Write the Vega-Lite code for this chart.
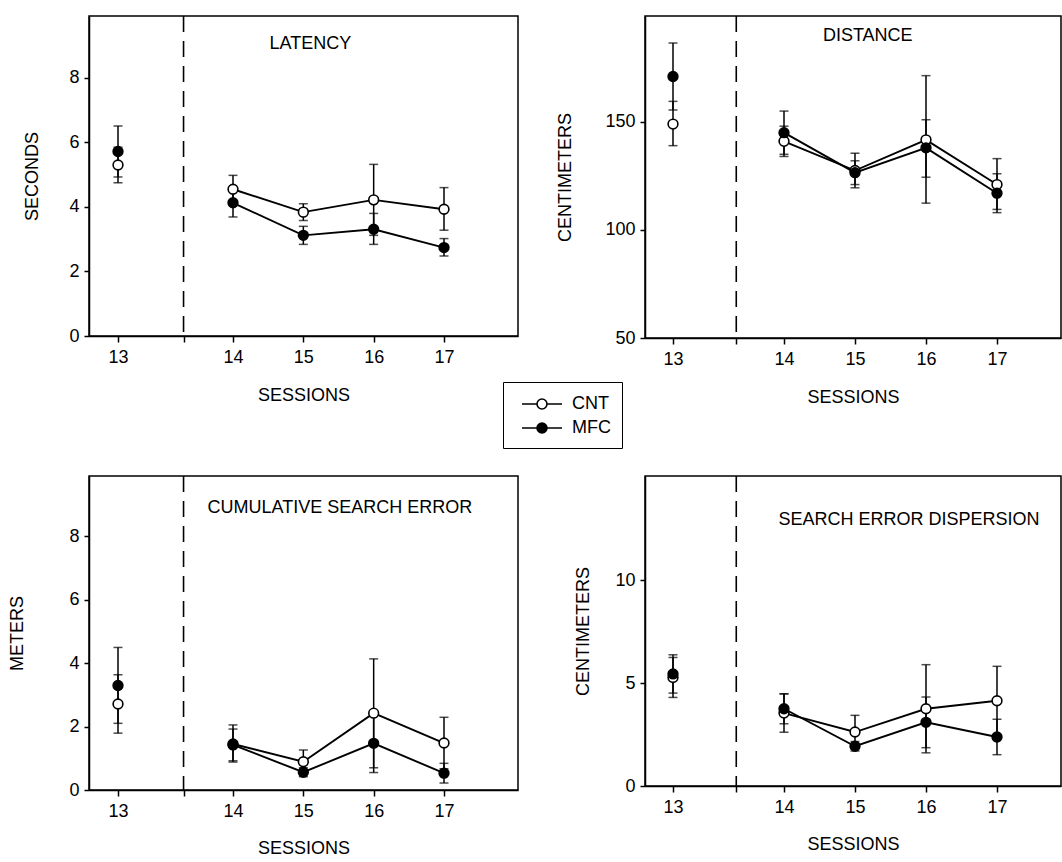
{
  "$schema": "https://vega.github.io/schema/vega-lite/v6.json",
  "background": "white",
  "padding": {"left": 8, "top": 14, "right": 0, "bottom": 0},
  "bounds": "flush",
  "columns": 2,
  "spacing": {"row": 138, "column": 127},
  "data": {"values": [
    {"measure": "LATENCY", "session": 13, "group": "CNT", "mean": 5.30, "lo": 4.75, "hi": 5.85},
    {"measure": "LATENCY", "session": 13, "group": "MFC", "mean": 5.72, "lo": 4.93, "hi": 6.51},
    {"measure": "LATENCY", "session": 14, "group": "CNT", "mean": 4.55, "lo": 4.12, "hi": 4.98},
    {"measure": "LATENCY", "session": 14, "group": "MFC", "mean": 4.13, "lo": 3.69, "hi": 4.57},
    {"measure": "LATENCY", "session": 15, "group": "CNT", "mean": 3.84, "lo": 3.58, "hi": 4.10},
    {"measure": "LATENCY", "session": 15, "group": "MFC", "mean": 3.12, "lo": 2.84, "hi": 3.40},
    {"measure": "LATENCY", "session": 16, "group": "CNT", "mean": 4.22, "lo": 3.12, "hi": 5.32},
    {"measure": "LATENCY", "session": 16, "group": "MFC", "mean": 3.31, "lo": 2.84, "hi": 3.80},
    {"measure": "LATENCY", "session": 17, "group": "CNT", "mean": 3.93, "lo": 3.28, "hi": 4.60},
    {"measure": "LATENCY", "session": 17, "group": "MFC", "mean": 2.74, "lo": 2.48, "hi": 3.02},
    {"measure": "DISTANCE", "session": 13, "group": "CNT", "mean": 149, "lo": 139, "hi": 159.5},
    {"measure": "DISTANCE", "session": 13, "group": "MFC", "mean": 171, "lo": 155.5, "hi": 186.5},
    {"measure": "DISTANCE", "session": 14, "group": "CNT", "mean": 141, "lo": 134, "hi": 148},
    {"measure": "DISTANCE", "session": 14, "group": "MFC", "mean": 145, "lo": 135, "hi": 155},
    {"measure": "DISTANCE", "session": 15, "group": "CNT", "mean": 127.5, "lo": 119.5, "hi": 135.5},
    {"measure": "DISTANCE", "session": 15, "group": "MFC", "mean": 126.5, "lo": 121, "hi": 132},
    {"measure": "DISTANCE", "session": 16, "group": "CNT", "mean": 141.7, "lo": 112.4, "hi": 171.4},
    {"measure": "DISTANCE", "session": 16, "group": "MFC", "mean": 138, "lo": 124.4, "hi": 151},
    {"measure": "DISTANCE", "session": 17, "group": "CNT", "mean": 121, "lo": 109.5, "hi": 133},
    {"measure": "DISTANCE", "session": 17, "group": "MFC", "mean": 117, "lo": 108, "hi": 126},
    {"measure": "CSE", "session": 13, "group": "CNT", "mean": 2.71, "lo": 1.79, "hi": 3.63},
    {"measure": "CSE", "session": 13, "group": "MFC", "mean": 3.29, "lo": 2.10, "hi": 4.49},
    {"measure": "CSE", "session": 14, "group": "CNT", "mean": 1.45, "lo": 0.88, "hi": 2.05},
    {"measure": "CSE", "session": 14, "group": "MFC", "mean": 1.42, "lo": 0.92, "hi": 1.92},
    {"measure": "CSE", "session": 15, "group": "CNT", "mean": 0.89, "lo": 0.52, "hi": 1.26},
    {"measure": "CSE", "session": 15, "group": "MFC", "mean": 0.56, "lo": 0.42, "hi": 0.70},
    {"measure": "CSE", "session": 16, "group": "CNT", "mean": 2.42, "lo": 0.70, "hi": 4.13},
    {"measure": "CSE", "session": 16, "group": "MFC", "mean": 1.47, "lo": 0.55, "hi": 2.39},
    {"measure": "CSE", "session": 17, "group": "CNT", "mean": 1.48, "lo": 0.67, "hi": 2.29},
    {"measure": "CSE", "session": 17, "group": "MFC", "mean": 0.53, "lo": 0.22, "hi": 0.84},
    {"measure": "SED", "session": 13, "group": "CNT", "mean": 5.27, "lo": 4.30, "hi": 6.24},
    {"measure": "SED", "session": 13, "group": "MFC", "mean": 5.44, "lo": 4.51, "hi": 6.37},
    {"measure": "SED", "session": 14, "group": "CNT", "mean": 3.54, "lo": 2.61, "hi": 4.47},
    {"measure": "SED", "session": 14, "group": "MFC", "mean": 3.75, "lo": 3.02, "hi": 4.48},
    {"measure": "SED", "session": 15, "group": "CNT", "mean": 2.62, "lo": 1.81, "hi": 3.43},
    {"measure": "SED", "session": 15, "group": "MFC", "mean": 1.93, "lo": 1.70, "hi": 2.16},
    {"measure": "SED", "session": 16, "group": "CNT", "mean": 3.75, "lo": 1.61, "hi": 5.89},
    {"measure": "SED", "session": 16, "group": "MFC", "mean": 3.09, "lo": 1.86, "hi": 4.32},
    {"measure": "SED", "session": 17, "group": "CNT", "mean": 4.14, "lo": 2.47, "hi": 5.81},
    {"measure": "SED", "session": 17, "group": "MFC", "mean": 2.38, "lo": 1.52, "hi": 3.24}
  ]},
  "concat": [
    {
      "width": 429, "height": 320,
      "transform": [{"filter": "datum.measure == 'LATENCY'"}],
      "layer": [
        {"data": {"values": [{"t": "LATENCY"}]}, "mark": {"type": "rule", "strokeDash": [16, 9], "strokeWidth": 1.6, "color": "black"},
         "encoding": {"x": {"datum": 13.57, "type": "quantitative", "title": "SESSIONS",
           "scale": {"domain": [12, 13, 14, 17, 18], "range": [0, 29, 144, 355, 429]},
           "axis": {"values": [13, 13.57, 14, 15, 16, 17], "labelExpr": "datum.value % 1 == 0 ? format(datum.value, 'd') : ''", "tickSize": 6, "labelPadding": 6, "titlePadding": 20}}}},
        {"mark": {"type": "errorbar", "ticks": {"size": 9}, "thickness": 1.5, "color": "black"},
         "encoding": {"x": {"field": "session", "type": "quantitative", "title": "SESSIONS"},
           "y": {"field": "lo", "type": "quantitative", "title": "SECONDS", "scale": {"domain": [0, 9.92], "nice": false},
             "axis": {"values": [0, 2, 4, 6, 8], "tickSize": 5, "labelPadding": 5, "titlePadding": 27}},
           "y2": {"field": "hi"}}},
        {"transform": [{"filter": "datum.session >= 14"}], "mark": {"type": "line", "color": "black", "strokeWidth": 1.9},
         "encoding": {"x": {"field": "session", "type": "quantitative", "title": "SESSIONS"}, "y": {"field": "mean", "type": "quantitative", "title": "SECONDS"}, "detail": {"field": "group"}}},
        {"mark": {"type": "point", "filled": true, "stroke": "black", "strokeWidth": 1.6, "size": 95, "opacity": 1},
         "encoding": {"x": {"field": "session", "type": "quantitative", "title": "SESSIONS"}, "y": {"field": "mean", "type": "quantitative", "title": "SECONDS"},
           "fill": {"field": "group", "type": "nominal", "scale": {"domain": ["CNT", "MFC"], "range": ["white", "black"]},
             "legend": {"orient": "none", "legendX": 414, "legendY": 366, "title": null, "strokeColor": "black", "fillColor": "white", "padding": 11,
               "symbolType": "M-2,0L-0.5,0M0.5,0L2,0M0.5,0A0.5,0.5,0,1,1,-0.5,0A0.5,0.5,0,1,1,0.5,0Z",
               "symbolSize": 400, "symbolOffset": 17, "symbolStrokeColor": "black", "symbolStrokeWidth": 1.6, "labelFontSize": 18, "labelColor": "black", "rowPadding": 4, "labelOffset": 19}}}},
        {"data": {"values": [{"t": "LATENCY"}]}, "mark": {"type": "text", "fontSize": 18, "color": "black"},
         "encoding": {"x": {"datum": 15.1, "type": "quantitative", "title": "SESSIONS"}, "y": {"datum": 9.05, "type": "quantitative", "title": "SECONDS"}, "text": {"field": "t"}}}
      ]
    },
    {
      "width": 416, "height": 322,
      "transform": [{"filter": "datum.measure == 'DISTANCE'"}],
      "layer": [
        {"data": {"values": [{"t": "DISTANCE"}]}, "mark": {"type": "rule", "strokeDash": [16, 9], "strokeWidth": 1.6, "color": "black"},
         "encoding": {"x": {"datum": 13.57, "type": "quantitative", "title": "SESSIONS",
           "scale": {"domain": [12, 13, 14, 17, 18], "range": [0, 28, 139, 352, 416]},
           "axis": {"values": [13, 13.57, 14, 15, 16, 17], "labelExpr": "datum.value % 1 == 0 ? format(datum.value, 'd') : ''", "tickSize": 6, "labelPadding": 6, "titlePadding": 20}}}},
        {"mark": {"type": "errorbar", "ticks": {"size": 9}, "thickness": 1.5, "color": "black"},
         "encoding": {"x": {"field": "session", "type": "quantitative", "title": "SESSIONS"},
           "y": {"field": "lo", "type": "quantitative", "title": "CENTIMETERS", "scale": {"domain": [50, 199], "nice": false, "zero": false},
             "axis": {"values": [50, 100, 150], "tickSize": 5, "labelPadding": 5, "titlePadding": 30}},
           "y2": {"field": "hi"}}},
        {"transform": [{"filter": "datum.session >= 14"}], "mark": {"type": "line", "color": "black", "strokeWidth": 1.9},
         "encoding": {"x": {"field": "session", "type": "quantitative", "title": "SESSIONS"}, "y": {"field": "mean", "type": "quantitative", "title": "CENTIMETERS"}, "detail": {"field": "group"}}},
        {"mark": {"type": "point", "filled": true, "stroke": "black", "strokeWidth": 1.6, "size": 95, "opacity": 1},
         "encoding": {"x": {"field": "session", "type": "quantitative", "title": "SESSIONS"}, "y": {"field": "mean", "type": "quantitative", "title": "CENTIMETERS"},
           "fill": {"field": "group", "type": "nominal", "scale": {"domain": ["CNT", "MFC"], "range": ["white", "black"]}, "legend": null}}},
        {"data": {"values": [{"t": "DISTANCE"}]}, "mark": {"type": "text", "fontSize": 18, "color": "black"},
         "encoding": {"x": {"datum": 15.18, "type": "quantitative", "title": "SESSIONS"}, "y": {"datum": 189.8, "type": "quantitative", "title": "CENTIMETERS"}, "text": {"field": "t"}}}
      ]
    },
    {
      "width": 429, "height": 314,
      "transform": [{"filter": "datum.measure == 'CSE'"}],
      "layer": [
        {"data": {"values": [{"t": "CUMULATIVE SEARCH ERROR"}]}, "mark": {"type": "rule", "strokeDash": [16, 9], "strokeWidth": 1.6, "color": "black"},
         "encoding": {"x": {"datum": 13.57, "type": "quantitative", "title": "SESSIONS",
           "scale": {"domain": [12, 13, 14, 17, 18], "range": [0, 29, 144, 355, 429]},
           "axis": {"values": [13, 13.57, 14, 15, 16, 17], "labelExpr": "datum.value % 1 == 0 ? format(datum.value, 'd') : ''", "tickSize": 6, "labelPadding": 6, "titlePadding": 19}}}},
        {"mark": {"type": "errorbar", "ticks": {"size": 9}, "thickness": 1.5, "color": "black"},
         "encoding": {"x": {"field": "session", "type": "quantitative", "title": "SESSIONS"},
           "y": {"field": "lo", "type": "quantitative", "title": "METERS", "scale": {"domain": [0, 9.89], "nice": false},
             "axis": {"values": [0, 2, 4, 6, 8], "tickSize": 5, "labelPadding": 5, "titlePadding": 42}},
           "y2": {"field": "hi"}}},
        {"transform": [{"filter": "datum.session >= 14"}], "mark": {"type": "line", "color": "black", "strokeWidth": 1.9},
         "encoding": {"x": {"field": "session", "type": "quantitative", "title": "SESSIONS"}, "y": {"field": "mean", "type": "quantitative", "title": "METERS"}, "detail": {"field": "group"}}},
        {"mark": {"type": "point", "filled": true, "stroke": "black", "strokeWidth": 1.6, "size": 95, "opacity": 1},
         "encoding": {"x": {"field": "session", "type": "quantitative", "title": "SESSIONS"}, "y": {"field": "mean", "type": "quantitative", "title": "METERS"},
           "fill": {"field": "group", "type": "nominal", "scale": {"domain": ["CNT", "MFC"], "range": ["white", "black"]}, "legend": null}}},
        {"data": {"values": [{"t": "CUMULATIVE SEARCH ERROR"}]}, "mark": {"type": "text", "fontSize": 18, "color": "black"},
         "encoding": {"x": {"datum": 15.52, "type": "quantitative", "title": "SESSIONS"}, "y": {"datum": 8.88, "type": "quantitative", "title": "METERS"}, "text": {"field": "t"}}}
      ]
    },
    {
      "width": 416, "height": 310,
      "transform": [{"filter": "datum.measure == 'SED'"}],
      "layer": [
        {"data": {"values": [{"t": "SEARCH ERROR DISPERSION"}]}, "mark": {"type": "rule", "strokeDash": [16, 9], "strokeWidth": 1.6, "color": "black"},
         "encoding": {"x": {"datum": 13.57, "type": "quantitative", "title": "SESSIONS",
           "scale": {"domain": [12, 13, 14, 17, 18], "range": [0, 28, 139, 352, 416]},
           "axis": {"values": [13, 13.57, 14, 15, 16, 17], "labelExpr": "datum.value % 1 == 0 ? format(datum.value, 'd') : ''", "tickSize": 6, "labelPadding": 6, "titlePadding": 19}}}},
        {"mark": {"type": "errorbar", "ticks": {"size": 9}, "thickness": 1.5, "color": "black"},
         "encoding": {"x": {"field": "session", "type": "quantitative", "title": "SESSIONS"},
           "y": {"field": "lo", "type": "quantitative", "title": "CENTIMETERS", "scale": {"domain": [0, 15.05], "nice": false},
             "axis": {"values": [0, 5, 10], "tickSize": 5, "labelPadding": 5, "titlePadding": 22}},
           "y2": {"field": "hi"}}},
        {"transform": [{"filter": "datum.session >= 14"}], "mark": {"type": "line", "color": "black", "strokeWidth": 1.9},
         "encoding": {"x": {"field": "session", "type": "quantitative", "title": "SESSIONS"}, "y": {"field": "mean", "type": "quantitative", "title": "CENTIMETERS"}, "detail": {"field": "group"}}},
        {"mark": {"type": "point", "filled": true, "stroke": "black", "strokeWidth": 1.6, "size": 95, "opacity": 1},
         "encoding": {"x": {"field": "session", "type": "quantitative", "title": "SESSIONS"}, "y": {"field": "mean", "type": "quantitative", "title": "CENTIMETERS"},
           "fill": {"field": "group", "type": "nominal", "scale": {"domain": ["CNT", "MFC"], "range": ["white", "black"]}, "legend": null}}},
        {"data": {"values": [{"t": "SEARCH ERROR DISPERSION"}]}, "mark": {"type": "text", "fontSize": 18, "color": "black"},
         "encoding": {"x": {"datum": 15.76, "type": "quantitative", "title": "SESSIONS"}, "y": {"datum": 12.9, "type": "quantitative", "title": "CENTIMETERS"}, "text": {"field": "t"}}}
      ]
    }
  ],
  "resolve": {"scale": {"fill": "independent"}, "legend": {"fill": "independent"}},
  "config": {
    "font": "Liberation Sans",
    "view": {"stroke": "black", "strokeWidth": 1.5},
    "axis": {"grid": false, "domainColor": "black", "domainWidth": 1.5, "tickColor": "black", "tickWidth": 1.5,
      "labelColor": "black", "titleColor": "black", "labelFontSize": 18, "titleFontSize": 18, "titleFontWeight": "normal"}
  }
}
